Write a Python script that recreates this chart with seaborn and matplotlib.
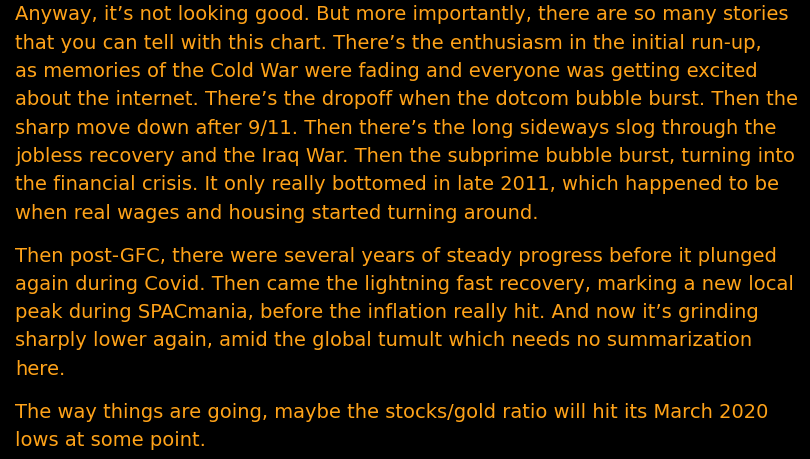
import matplotlib
matplotlib.use("Agg")
import matplotlib.pyplot as plt
import seaborn as sns

sns.set_theme(style="dark")
plt.rcParams['font.family'] = ['DejaVu Sans']

paragraph1 = [
    "Anyway, it’s not looking good. But more importantly, there are so many stories",
    "that you can tell with this chart. There’s the enthusiasm in the initial run-up,",
    "as memories of the Cold War were fading and everyone was getting excited",
    "about the internet. There’s the dropoff when the dotcom bubble burst. Then the",
    "sharp move down after 9/11. Then there’s the long sideways slog through the",
    "jobless recovery and the Iraq War. Then the subprime bubble burst, turning into",
    "the financial crisis. It only really bottomed in late 2011, which happened to be",
    "when real wages and housing started turning around.",
]
paragraph2 = [
    "Then post-GFC, there were several years of steady progress before it plunged",
    "again during Covid. Then came the lightning fast recovery, marking a new local",
    "peak during SPACmania, before the inflation really hit. And now it’s grinding",
    "sharply lower again, amid the global tumult which needs no summarization",
    "here.",
]
paragraph3 = [
    "The way things are going, maybe the stocks/gold ratio will hit its March 2020",
    "lows at some point.",
]

W, H = 810, 460
fig = plt.figure(figsize=(W / 100, H / 100), dpi=100, facecolor="black")
color = "#FFA319"

y = 20.5
for para in [paragraph1, paragraph2, paragraph3]:
    for line in para:
        fig.text(15 / W, 1 - y / H, line, color=color, fontsize=14,
                 ha="left", va="baseline")
        y += 28.3
    y += 14.7

fig.savefig("out.png", dpi=100, facecolor="black")
